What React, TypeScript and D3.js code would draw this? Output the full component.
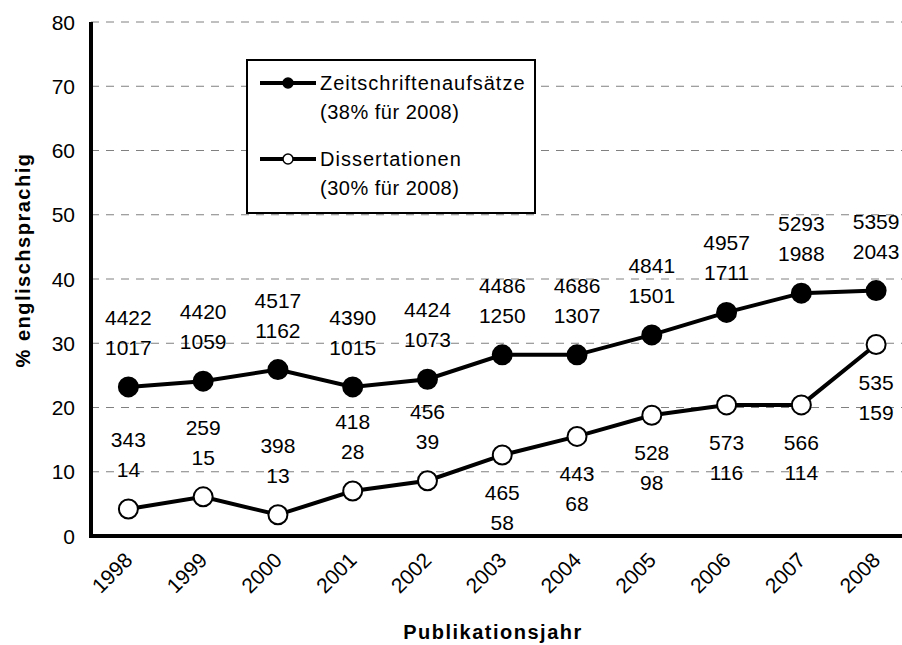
import React, { useEffect, useRef } from 'react';
import * as d3 from 'd3';

const years = ['1998', '1999', '2000', '2001', '2002', '2003', '2004', '2005', '2006', '2007', '2008'];
// % englischsprachig
const zeitPct = [23.2, 24.1, 25.9, 23.2, 24.4, 28.2, 28.2, 31.3, 34.8, 37.8, 38.2];
const zeitTotal = [4422, 4420, 4517, 4390, 4424, 4486, 4686, 4841, 4957, 5293, 5359];
const zeitEng = [1017, 1059, 1162, 1015, 1073, 1250, 1307, 1501, 1711, 1988, 2043];
const dissPct = [4.2, 6.1, 3.3, 7.0, 8.6, 12.6, 15.5, 18.8, 20.4, 20.4, 29.8];
const dissTotal = [343, 259, 398, 418, 456, 465, 443, 528, 573, 566, 535];
const dissEng = [14, 15, 13, 28, 39, 58, 68, 98, 116, 114, 159];
const dissLabelBelow = [false, false, false, false, false, true, true, true, true, true, true];
const yTicks = [0, 10, 20, 30, 40, 50, 60, 70, 80];

const FONT = "'Liberation Sans', Arial, Helvetica, sans-serif";

export default function App() {
  const ref = useRef<SVGSVGElement>(null);

  useEffect(() => {
    const svg = d3.select(ref.current);
    svg.selectAll('*').remove();
    const width = 902;
    const left = 91;
    const top = 22;
    const bottom = 536;

    const x = d3.scaleBand().domain(years).range([left, 913.5]);
    const y = d3.scaleLinear().domain([0, 80]).range([bottom, top]);
    const cx = (i: number) => (x(years[i]) as number) + x.bandwidth() / 2;

    // gridlines
    svg.append('g')
      .selectAll('line')
      .data(yTicks.filter((t) => t > 0))
      .enter()
      .append('line')
      .attr('x1', left)
      .attr('x2', width)
      .attr('y1', (d) => y(d))
      .attr('y2', (d) => y(d))
      .style('stroke', '#808080')
      .style('stroke-width', 1)
      .style('stroke-dasharray', '8,7');

    // y tick labels
    svg.append('g')
      .selectAll('text')
      .data(yTicks)
      .enter()
      .append('text')
      .attr('x', 75)
      .attr('y', (d) => y(d) + 7.5)
      .attr('text-anchor', 'end')
      .style('font-family', FONT)
      .style('font-size', '21px')
      .text((d) => d);

    // axes
    svg.append('line')
      .attr('x1', left).attr('x2', left)
      .attr('y1', top).attr('y2', bottom + 2)
      .style('stroke', '#000').style('stroke-width', 4);
    svg.append('line')
      .attr('x1', left - 2).attr('x2', width)
      .attr('y1', bottom).attr('y2', bottom)
      .style('stroke', '#000').style('stroke-width', 4);

    // x tick labels
    svg.append('g')
      .selectAll('text')
      .data(years)
      .enter()
      .append('text')
      .attr('transform', (d, i) => `translate(${cx(i) - 5},${551}) rotate(-45)`)
      .attr('text-anchor', 'end')
      .attr('dy', '0.7em')
      .style('font-family', FONT)
      .style('font-size', '21px')
      .text((d) => d);

    // axis titles
    svg.append('text')
      .attr('transform', 'translate(30,260) rotate(-90)')
      .attr('text-anchor', 'middle')
      .style('font-family', FONT)
      .style('font-size', '20px')
      .style('font-weight', 'bold')
      .style('letter-spacing', '1.5px')
      .text('% englischsprachig');
    svg.append('text')
      .attr('x', 493)
      .attr('y', 639)
      .attr('text-anchor', 'middle')
      .style('font-family', FONT)
      .style('font-size', '20px')
      .style('font-weight', 'bold')
      .style('letter-spacing', '1.5px')
      .text('Publikationsjahr');

    const line = d3
      .line<number>()
      .x((d, i) => cx(i))
      .y((d) => y(d));

    const series = [
      { values: zeitPct, fill: '#000', total: zeitTotal, eng: zeitEng, below: years.map(() => false) },
      { values: dissPct, fill: '#fff', total: dissTotal, eng: dissEng, below: dissLabelBelow },
    ];

    series.forEach((s) => {
      svg.append('path')
        .attr('d', line(s.values))
        .style('fill', 'none')
        .style('stroke', '#000')
        .style('stroke-width', 4);
      svg.append('g')
        .selectAll('circle')
        .data(s.values)
        .enter()
        .append('circle')
        .attr('cx', (d, i) => cx(i))
        .attr('cy', (d) => y(d))
        .attr('r', 9.5)
        .style('fill', s.fill)
        .style('stroke', '#000')
        .style('stroke-width', 2);
      const lbl = svg.append('g')
        .selectAll('g')
        .data(s.values)
        .enter()
        .append('g')
        .style('font-family', FONT)
        .style('font-size', '21px')
        .attr('text-anchor', 'middle');
      lbl.append('text')
        .attr('x', (d, i) => cx(i))
        .attr('y', (d, i) => y(d) + (s.below[i] ? 45 : -62))
        .text((d, i) => s.total[i]);
      lbl.append('text')
        .attr('x', (d, i) => cx(i))
        .attr('y', (d, i) => y(d) + (s.below[i] ? 75 : -32))
        .text((d, i) => s.eng[i]);
    });

    // legend
    const lg = svg.append('g');
    lg.append('rect')
      .attr('x', 247).attr('y', 60)
      .attr('width', 288).attr('height', 153)
      .style('fill', '#fff')
      .style('stroke', '#000')
      .style('stroke-width', 2);
    const items = [
      { name: 'Zeitschriftenaufsätze', sub: '(38% für 2008)', fill: '#000', y: 83 },
      { name: 'Dissertationen', sub: '(30% für 2008)', fill: '#fff', y: 159 },
    ];
    items.forEach((it) => {
      lg.append('line')
        .attr('x1', 260).attr('x2', 316)
        .attr('y1', it.y).attr('y2', it.y)
        .style('stroke', '#000').style('stroke-width', 4);
      lg.append('circle')
        .attr('cx', 288).attr('cy', it.y).attr('r', 5)
        .style('fill', it.fill)
        .style('stroke', '#000')
        .style('stroke-width', 1.5);
      lg.append('text')
        .attr('x', 320).attr('y', it.y + 7)
        .style('font-family', FONT)
        .style('font-size', '20px')
        .style('letter-spacing', '1px')
        .text(it.name);
      lg.append('text')
        .attr('x', 320).attr('y', it.y + 36)
        .style('font-family', FONT)
        .style('font-size', '20px')
        .style('letter-spacing', '0.5px')
        .text(it.sub);
    });
  }, []);

  return (
    <svg
      ref={ref}
      width={902}
      height={645}
      style={{ position: 'absolute', left: 0, top: 0, background: '#fff' }}
    />
  );
}
